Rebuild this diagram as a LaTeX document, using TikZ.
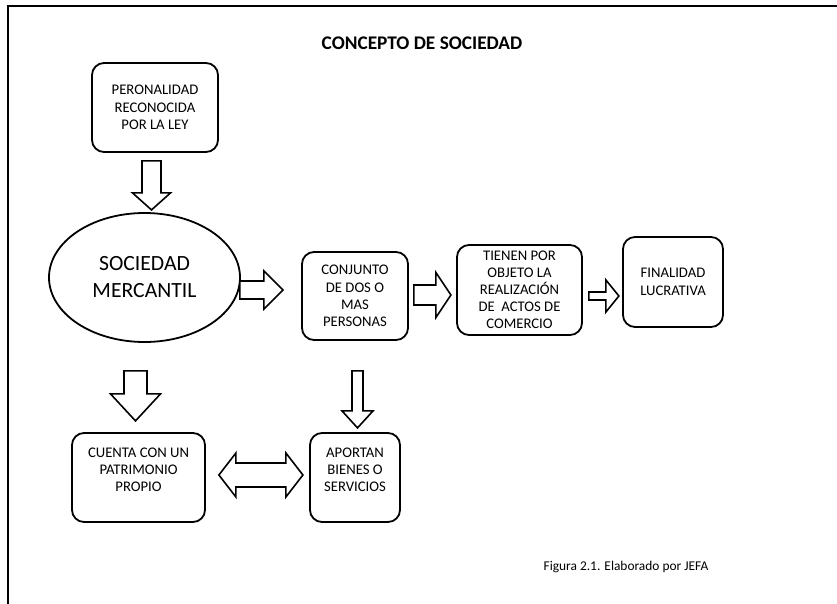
\documentclass[tikz,border=0pt]{standalone}
\usepackage{fontspec}
\setmainfont{Carlito}
\usetikzlibrary{shapes.geometric,calc}

\tikzset{
  box/.style={draw, line width=1.8pt, rounded corners=12pt, align=center,
    inner sep=2pt, font=\fontsize{14.7}{17.4}\selectfont},
  oval/.style={draw, ellipse, line width=1.8pt, inner sep=0pt, align=center,
    font=\fontsize{21.7}{27}\selectfont},
  barrow/.style={draw, line width=1.6pt, fill=white, line join=miter},
  % block arrow pointing right: length, head length, shaft width, head width
  pics/rarrow/.style n args={4}{code={
    \draw[barrow] (0,{-#3/2}) -- ({#1-#2},{-#3/2}) -- ({#1-#2},{-#4/2})
      -- (#1,0) -- ({#1-#2},{#4/2}) -- ({#1-#2},{#3/2}) -- (0,{#3/2}) -- cycle;
  }},
  % block arrow pointing down
  pics/darrow/.style n args={4}{code={
    \draw[barrow] ({-#3/2},0) -- ({-#3/2},{#1-#2}) -- ({-#4/2},{#1-#2})
      -- (0,#1) -- ({#4/2},{#1-#2}) -- ({#3/2},{#1-#2}) -- ({#3/2},0) -- cycle;
  }},
  % two-headed horizontal block arrow
  pics/lrarrow/.style n args={4}{code={
    \draw[barrow] (0,0) -- (#2,{-#4/2}) -- (#2,{-#3/2}) -- ({#1-#2},{-#3/2})
      -- ({#1-#2},{-#4/2}) -- (#1,0) -- ({#1-#2},{#4/2}) -- ({#1-#2},{#3/2})
      -- (#2,{#3/2}) -- (#2,{#4/2}) -- cycle;
  }}
}

\begin{document}
\begin{tikzpicture}[x=1pt, y=-1pt]
  \useasboundingbox (0,0) rectangle (837,604);

  % page frame
  \draw[line width=2pt] (8,604) -- (8,6) -- (837,6);

  % title
  \node[font=\fontsize{19.3}{23}\selectfont\bfseries] (title) at (422,43)
    {CONCEPTO DE SOCIEDAD};

  % concept nodes
  \node[box, minimum width=126, minimum height=89] (p) at (155,107.5)
    {PERONALIDAD\\RECONOCIDA\\POR LA LEY};
  \node[oval, minimum width=191, minimum height=129] (e) at (144.5,277.5)
    {SOCIEDAD\\MERCANTIL};
  \node[box, minimum width=106, minimum height=88] (c) at (355,296)
    {CONJUNTO\\DE DOS O\\MAS\\PERSONAS};
  \node[box, minimum width=125, minimum height=90, font=\fontsize{14.7}{17}\selectfont]
    (t) at (519.5,290)
    {TIENEN POR\\OBJETO LA\\REALIZACIÓN\\DE\ \ ACTOS DE\\COMERCIO};
  \node[box, minimum width=100, minimum height=90] (f) at (673,282)
    {FINALIDAD\\LUCRATIVA};
  % the empty last line lifts the text above the box centre
  \node[box, minimum width=133, minimum height=89] (cu) at (138.5,477.5)
    {CUENTA CON UN\\PATRIMONIO\\PROPIO\\[-2pt]\mbox{}};
  \node[box, minimum width=90, minimum height=89] (a) at (355,477.5)
    {APORTAN\\BIENES O\\SERVICIOS\\[-2pt]\mbox{}};

  % block-arrow connectors
  \pic at ($(p.south)+(-3.5,8)$) {darrow={49}{17}{19}{38}};
  \pic at ($(e.east)+(-1,12.5)$) {rarrow={43}{19}{18}{38}};
  \pic at ($(c.east)+(5,-1)$) {rarrow={37}{15}{20}{45}};
  \pic at ($(t.east)+(6,6)$) {rarrow={30}{13}{8}{32}};
  \pic at ($(e.south)+(-9,28)$) {darrow={50}{27}{23}{50}};
  \pic at ($(c.south)+(2.5,30)$) {darrow={57}{17}{11}{31}};
  \pic at ($(cu.east)+(13,-2.5)$) {lrarrow={84}{17}{24}{44}};

  % caption
  \node[font=\fontsize{13.4}{16}\selectfont] (cap) at (626,567)
    {Figura 2.1. Elaborado por JEFA};
\end{tikzpicture}
\end{document}
